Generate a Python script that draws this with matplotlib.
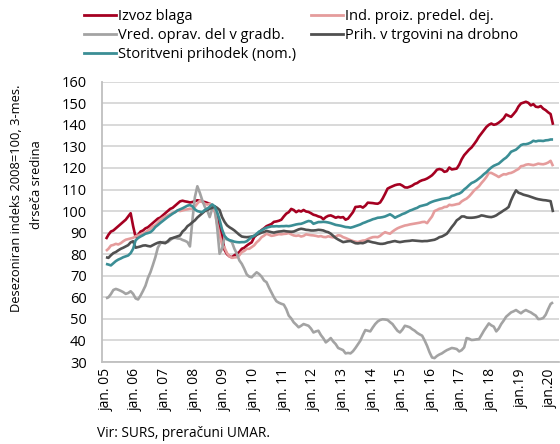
import matplotlib
matplotlib.use("Agg")
import matplotlib.pyplot as plt
from matplotlib.lines import Line2D

plt.rcParams['font.family'] = ['Open Sans', 'DejaVu Sans']

# ---- data (monthly, Jan 2005 .. Feb 2020) ----
izvoz = [
    87, 89, 90.5, 91, 92, 93, 94, 95, 96, 97.5, 99, 93,
    88, 89, 90.5, 91, 92, 92.5, 93.5, 94.5, 95.5, 96.5, 97, 98,
    99, 100, 101, 101.5, 102.5, 103.5, 104.5, 104.8, 104.5, 104.3, 104, 104.2,
    104.6, 105, 104.8, 104.4, 104.2, 103.8, 103.4, 102, 100.3, 97.2, 93, 88.5,
    82, 80, 79, 78.6, 79.5, 80.2, 81, 82.5, 83, 84, 84.8, 85.5,
    87.9, 89, 90, 91.2, 92, 93, 93.5, 94, 95, 95.2, 95.5, 96,
    97.5, 98.8, 99.5, 101, 100.5, 99.5, 100.2, 99.8, 100.5, 99.8, 99.6, 99,
    98.3, 98, 97.5, 97.2, 96.2, 97.2, 97.8, 98, 97.5, 96.9, 97.3, 97,
    97.2, 96, 96.5, 98, 99.5, 101.9, 102, 102.2, 101.6, 102.5, 103.9, 103.8,
    103.7, 103.5, 103.4, 104, 105.8, 108, 110.4, 111, 111.5, 112, 112.3, 112.4,
    111.8, 111, 110.9, 111.3, 111.8, 112.6, 113, 113.8, 114.3, 114.6, 115.1, 115.8,
    116.6, 117.8, 119.2, 119.5, 119.2, 118.2, 118.5, 120.2, 119.3, 119.5, 119.7, 121.5,
    124, 125.9, 127.2, 128.5, 129.5, 131, 132.6, 134.5, 136, 137.5, 139, 140,
    140.6, 140, 140.3, 141, 141.9, 143, 144.8, 144.2, 143.7, 145, 146.4, 148.5,
    149.9, 150.3, 150.7, 150.2, 149, 149.6, 148.4, 148.2, 148.7, 147.5, 146.8, 145.8,
    145, 140,
]
ind_proiz = [
    81.5, 82.5, 84, 84.3, 84.8, 84.5, 85.1, 86, 86.7, 87, 87.3, 87.6,
    88.3, 88.7, 89.2, 89.5, 90.2, 91, 91.8, 93, 93.4, 94.5, 96, 96.8,
    97.5, 98, 98.6, 99.1, 99.5, 100.3, 100, 100.3, 100.6, 100.8, 101.1, 101,
    102, 103.5, 104.7, 104.2, 103.4, 103, 103.4, 102.7, 100, 94.1, 89, 84.5,
    83, 80.5, 79, 78.3, 78.5, 78.6, 79.5, 81, 81.5, 82.5, 82.5, 83.3,
    84.1, 85.5, 86.5, 87.9, 88.6, 89.5, 89, 88.5, 88.7, 89, 89.3, 89.2,
    89.4, 89.5, 89.8, 89.2, 88.7, 88.5, 88.7, 88.2, 88.5, 89.2, 89, 88.8,
    88.7, 88.5, 88.2, 88.4, 88, 87.9, 88.3, 88, 87.8, 88.2, 88.8, 88.6,
    87.9, 87.5, 87, 86.5, 86.1, 85.8, 85.6, 86, 86.3, 86.4, 87, 87.5,
    87.9, 88, 87.9, 88.5, 89.5, 90.2, 89.8, 89.5, 90.5, 91.3, 92, 92.5,
    92.9, 93.3, 93.5, 93.8, 94, 94.2, 94.4, 94.6, 94.9, 95, 94.4, 96,
    97.5, 100, 100.5, 101.1, 101.3, 101.9, 102, 102.9, 102.7, 102.9, 103.2, 103.4,
    104.5, 105.2, 105.8, 106.8, 108.1, 109.5, 110.5, 111.5, 113, 114.3, 115.8, 117.7,
    117.7, 117.1, 116.5, 115.8, 116.5, 117.1, 117, 117.5, 117.7, 118.2, 118.9, 119.5,
    120.8, 121, 121.5, 121.7, 121.5, 121.3, 121.6, 122, 121.8, 121.7, 122, 122.5,
    123.3, 120.8,
]
vred_gradb = [
    59.5, 60, 61.5, 63.4, 63.9, 63.5, 63, 62.4, 61.6, 62, 62.8, 61.6,
    59.5, 59, 60.8, 63, 65.4, 69, 71.6, 75, 78.6, 83, 85, 85.6,
    85.6, 85.6, 86.5, 87.4, 87.6, 87.3, 87.2, 86.6, 86.2, 85.6, 83.6, 95.7,
    106.5, 111.5, 108.5, 105, 102, 100.3, 97.2, 101.1, 102.2, 92.6, 80.2, 82.5,
    87.9, 86.8, 86.4, 85.6, 82.5, 80.2, 77.1, 75.5, 73.2, 70.6, 69.6, 69.3,
    70.5, 71.6, 70.8, 69.6, 67.8, 67, 64.5, 62.3, 60, 58.2, 57.5, 57,
    56.6, 54.5, 51.5, 50.2, 48.4, 47.3, 46.1, 46.8, 47.6, 47.2, 46.8, 45.5,
    43.7, 44.2, 44.5, 42.5, 41, 39.1, 40, 41.1, 39.5, 38.3, 36.5, 36,
    35.5, 34, 34.2, 34, 35, 36.5, 38.2, 39.9, 42.5, 44.8, 44.5, 44.2,
    46, 47.6, 48.8, 49.5, 49.8, 49.7, 49.5, 48.5, 47.6, 46, 44.5, 43.7,
    45, 46.8, 46.5, 46.1, 45.2, 44.5, 43.5, 42.8, 42.2, 40, 37.5, 34.5,
    32.1, 31.8, 32.8, 33.5, 34, 34.8, 35.5, 36, 36.5, 36.3, 36, 34.9,
    35.5, 36.8, 41.1, 40.8, 40.2, 40.3, 40.5, 40.6, 42.5, 44.5, 46.2, 47.9,
    47, 46.4, 44.2, 45.5, 47.6, 49.2, 51, 52, 53, 53.5, 54.1, 53.3,
    52.6, 53.5, 54.1, 53.5, 53, 52.2, 51.5, 49.9, 50, 50.4, 51.9, 54.5,
    56.9, 57.7,
]
prih_trg = [
    78.6, 78.3, 79.5, 80.5, 81, 81.8, 82.5, 83, 83.6, 84.2, 85.5, 86,
    83, 83.3, 83.6, 84, 84.1, 83.8, 83.6, 84.2, 84.8, 85.3, 85.6, 85.3,
    85.1, 86, 87.2, 87.5, 87.9, 88.3, 88.7, 90.5, 91.5, 93, 93.8, 94.8,
    95.7, 97, 98, 99, 100, 100.5, 101.1, 101.5, 102.2, 101.5, 100.5, 97.2,
    95, 93.4, 92.5, 91.8, 91, 90, 89, 88.2, 88, 87.9, 88, 88.2,
    88.5, 89, 89.5, 90, 90.3, 90.8, 90.5, 90.2, 90, 90.3, 90.5, 90.6,
    90.8, 90.6, 90.5, 90.4, 90.5, 91, 91.5, 91.8, 91.6, 91.3, 91.2, 91,
    91, 91.1, 91.3, 91.2, 91, 90.5, 90.2, 89.5, 88.5, 87.5, 86.8, 86.2,
    85.6, 85.8, 86, 86.1, 85.6, 85.1, 85, 85.2, 85.1, 85.5, 86.1, 85.8,
    85.5, 85.3, 85, 84.8, 84.8, 85, 85.4, 85.6, 85.9, 86.1, 85.8, 85.6,
    85.8, 86, 86.1, 86.2, 86.4, 86.3, 86.2, 86.1, 86, 86.1, 86.1, 86.3,
    86.5, 86.7, 87.2, 87.9, 88.2, 88.8, 89.5, 91, 92.6, 94, 95.7, 96.5,
    97.5, 97.5, 97, 96.9, 96.9, 97, 97.2, 97.5, 98, 97.8, 97.5, 97.3,
    97.2, 97.5, 98, 98.8, 99.5, 100.3, 101, 101.9, 105, 107.5, 109.6, 108.5,
    108.1, 107.6, 107.3, 107, 106.6, 106.2, 105.8, 105.5, 105.3, 105.1, 105, 104.8,
    104.6, 99.5,
]
storitve = [
    75.5, 75.2, 74.8, 75.8, 76.8, 77.5, 78, 78.6, 79, 79.4, 80.5, 82.5,
    86.4, 87.5, 88.2, 88.8, 89.5, 89.8, 90.2, 91.2, 92.6, 93.5, 94.5, 95.4,
    96.3, 97.2, 98, 98.8, 99.5, 100.3, 100.8, 101.3, 101.9, 102.5, 102.8, 102.2,
    100.8, 100, 99.7, 99.5, 100.5, 101.1, 102, 103.1, 102.2, 99.5, 96, 91.5,
    88.5, 87.2, 86.5, 86.2, 85.8, 85.6, 85.5, 85.6, 85.6, 86, 87, 88,
    88.5, 89.5, 90.5, 91, 91.8, 92.3, 92.6, 92.9, 92.9, 93, 92.9, 93,
    93, 93.1, 93, 93.2, 93.5, 93.8, 94, 94.1, 94.5, 95, 95.4, 95.2,
    94.1, 94.5, 94.9, 94.9, 95, 94.9, 94.7, 94.4, 94, 93.6, 93.4, 93.2,
    92.9, 92.6, 92.5, 92.3, 92.6, 93, 93.4, 93.8, 94.4, 94.8, 95.3, 95.7,
    96.2, 96.5, 96.9, 97, 97.2, 97.5, 98, 98.5, 97.8, 96.9, 97.5, 98,
    98.6, 99, 99.6, 100.2, 100.6, 101.1, 101.5, 102.2, 102.5, 102.8, 103.1, 103.8,
    104.3, 104.7, 105, 105.3, 105.6, 105.8, 106, 106.2, 107, 107.3, 107.8, 108.1,
    108.8, 110, 110.9, 112, 113, 113.5, 114.2, 115.1, 116, 117.1, 118, 119.2,
    120.2, 121, 121.5, 122, 123, 124, 124.8, 126, 127.5, 128, 128.5, 129.5,
    130.6, 131, 131, 131.3, 131.8, 132.6, 132.3, 132.6, 132.6, 132.5, 132.8, 132.9,
    133.2, 133.2,
]
tick_labels = ['jan. 05', 'jan. 06', 'jan. 07', 'jan. 08', 'jan. 09', 'jan. 10',
               'jan. 11', 'jan. 12', 'jan. 13', 'jan. 14', 'jan. 15', 'jan. 16',
               'jan. 17', 'jan. 18', 'jan.19', 'jan.20']
y_ticks = [30, 40, 50, 60, 70, 80, 90, 100, 110, 120, 130, 140, 150, 160]
names = ['Izvoz blaga', 'Ind. proiz. predel. dej.', 'Vred. oprav. del v gradb.',
         'Prih. v trgovini na drobno', 'Storitveni prihodek (nom.)']
colors = ['#A50021', '#E59C9C', '#A3A3A3', '#505050', '#3B8E95']

# ---- figure ----
W, H = 560, 444
fig = plt.figure(figsize=(W / 100, H / 100), dpi=100)
ax = fig.add_axes([102 / W, 1 - 362 / H, 457 / W, (362 - 81.7) / H])

x = list(range(len(izvoz)))
series = [izvoz, ind_proiz, vred_gradb, prih_trg, storitve]
for i, s in enumerate(series):
    ax.plot(x, s, color=colors[i], lw=1.9, solid_joinstyle='round',
            solid_capstyle='butt', zorder=3 + i)

ax.set_xlim(-1.6, 183.4)
ax.set_ylim(30, 160)
ax.set_yticks(y_ticks)
ax.set_yticklabels([str(v) for v in y_ticks])
ax.set_xticks(list(range(0, 181, 12)))
ax.set_xticklabels(tick_labels, rotation=90)
ax.tick_params(axis='y', length=0, pad=11, labelsize=10.5, colors='#000000')
ax.tick_params(axis='x', length=0, pad=4.5, labelsize=10, colors='#000000')
ax.grid(axis='y', color='#CFCFCF', lw=1.1, zorder=0)
ax.set_axisbelow(True)
for s in ['top', 'right']:
    ax.spines[s].set_visible(False)
for s in ['left', 'bottom']:
    ax.spines[s].set_color('#BFBFBF')
    ax.spines[s].set_linewidth(1.3)

# legends (two columns)
def mk(i):
    return Line2D([0], [0], color=colors[i], lw=2.0)

common = dict(loc='upper left', frameon=False, fontsize=10.5, handlelength=2.2,
              handletextpad=0.15, borderpad=0, borderaxespad=0, labelspacing=0.26)
fig.legend([mk(0), mk(2), mk(4)], [names[0], names[2], names[4]],
           bbox_to_anchor=(84 / W, 1 - 9.5 / H), **common)
fig.legend([mk(1), mk(3)], [names[1], names[3]],
           bbox_to_anchor=(311 / W, 1 - 9.5 / H), **common)

fig.text(17 / W, 1 - 198 / H, 'Desezoniran indeks 2008=100, 3-mes.', rotation=90,
         ha='center', va='center', fontsize=9.3)
fig.text(36 / W, 1 - 185 / H, 'drseča sredina', rotation=90,
         ha='center', va='center', fontsize=9.3)
fig.text(97 / W, 1 - 433 / H, 'Vir: SURS, preračuni UMAR.', ha='left', va='center',
         fontsize=9.8)

fig.savefig('out.png', dpi=100)
